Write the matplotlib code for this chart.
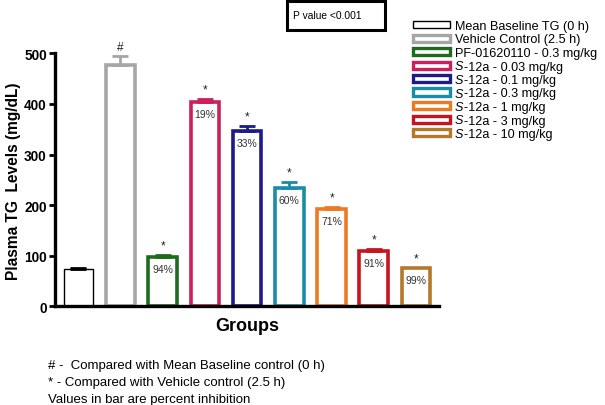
import matplotlib
matplotlib.use("Agg")
import matplotlib.pyplot as plt
from matplotlib.patches import Rectangle

plt.rcParams['font.family'] = ['Liberation Sans', 'DejaVu Sans']

groups = ["Mean Baseline TG (0 h)", "Vehicle Control (2.5 h)", "PF-01620110 - 0.3 mg/kg",
          "S-12a - 0.03 mg/kg", "S-12a - 0.1 mg/kg", "S-12a - 0.3 mg/kg",
          "S-12a - 1 mg/kg", "S-12a - 3 mg/kg", "S-12a - 10 mg/kg"]
values = [73, 478, 97, 404, 347, 234, 193, 110, 76]
errors = [2, 17, 5, 6, 10, 12, 4, 4, 0]
marks = ["", "#", "*", "*", "*", "*", "*", "*", "*"]
inhibition = ["", "", "94%", "19%", "33%", "60%", "71%", "91%", "99%"]
colors = ["#000000", "#a6a6a6", "#1e6b1e", "#cc1f5c", "#1b1b8a", "#1b8ca6",
          "#ec7a22", "#c8141e", "#b5772a"]
widths = [1.0, 2.6, 2.6, 2.6, 2.6, 2.6, 2.6, 2.6, 2.6]

W, H = 605, 406
fig = plt.figure(figsize=(W / 100, H / 100), dpi=100)
ax = fig.add_axes([0.091, 0.243, 0.635, 0.623])

x = list(range(len(values)))
for i in x:
    ax.bar(i, values[i], width=0.68, facecolor="white", edgecolor=colors[i],
           linewidth=widths[i], zorder=2)
    if errors[i] > 0:
        ax.errorbar(i, values[i], yerr=[[0], [errors[i]]], fmt="none",
                    ecolor=colors[i], elinewidth=2, capsize=6, capthick=2,
                    clip_on=False, zorder=3)
    if marks[i]:
        ax.text(i, values[i] + errors[i] + 6, marks[i], ha="center", va="bottom",
                fontsize=8.5, color="#222222")
    if inhibition[i]:
        ax.text(i, values[i] - 14, inhibition[i], ha="center", va="top",
                fontsize=7.5, color="#333333")

ax.set_xlim(-0.55, 8.55)
ax.set_ylim(0, 500)
ax.set_yticks([0, 100, 200, 300, 400, 500])
ax.set_xticks([])
for s in ["top", "right"]:
    ax.spines[s].set_visible(False)
for s in ["left", "bottom"]:
    ax.spines[s].set_linewidth(2.4)
ax.tick_params(axis="y", width=2, length=4, labelsize=9.8, pad=2)
for lab in ax.get_yticklabels():
    lab.set_fontweight("bold")
ax.set_ylabel("Plasma TG  Levels (mg/dL)", fontsize=11.2, fontweight="bold", labelpad=2)
ax.set_xlabel("Groups", fontsize=13, fontweight="bold", labelpad=8)

# legend drawn as swatches + labels (italic "S" for S-12a entries)
LFS = 9.1
for i in x:
    yc = 25.5 + 13.5 * i
    fig.patches.append(Rectangle((413 / W, 1 - (yc + 3.5) / H), 37 / W, 7 / H,
                                 transform=fig.transFigure, facecolor="white",
                                 edgecolor=colors[i], linewidth=2.4 if i else 1.0))
    label = groups[i]
    ybase = 1 - (yc + 4.5) / H
    if label.startswith("S-"):
        t = fig.text(455 / W, ybase, "S", ha="left", va="baseline",
                     fontsize=LFS, style="italic")
        ax.annotate(label[1:], xy=(1, 0), xycoords=t, xytext=(0.3, 0),
                    textcoords="offset points", ha="left", va="bottom",
                    fontsize=LFS, annotation_clip=False)
    else:
        fig.text(455 / W, ybase, label, ha="left", va="baseline", fontsize=LFS)

fig.patches.append(Rectangle((0.474, 0.924), 0.162, 0.072, transform=fig.transFigure,
                             facecolor="white", edgecolor="black", linewidth=2.2))
fig.text(0.485, 0.960, "P value <0.001", ha="left", va="center", fontsize=7.4)

fig.text(0.08, 1 - 366 / H, "# -  Compared with Mean Baseline control (0 h)", fontsize=9.5, va="center")
fig.text(0.08, 1 - 383 / H, "* - Compared with Vehicle control (2.5 h)", fontsize=9.5, va="center")
fig.text(0.08, 1 - 400 / H, "Values in bar are percent inhibition", fontsize=9.5, va="center")

fig.savefig("out.png", dpi=100)
